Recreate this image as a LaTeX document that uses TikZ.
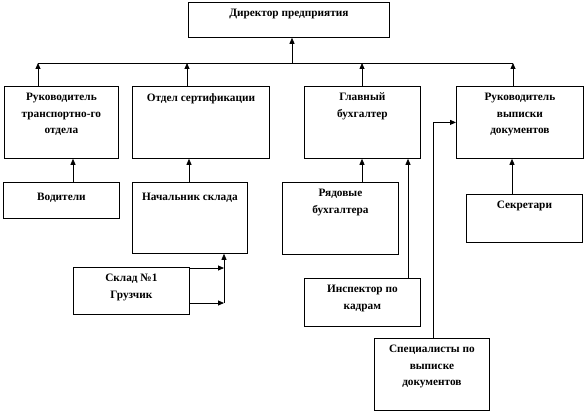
\documentclass[tikz,border=0pt]{standalone}
\usepackage{fontspec}
\setmainfont{Liberation Serif}
\usetikzlibrary{arrows.meta}
\tikzset{
  box/.style  = {draw, line width=0.8pt, anchor=north west, inner sep=0pt},
  boxt/.style = {anchor=north, align=center, inner sep=0pt, yshift=-7pt,
                 font=\bfseries\fontsize{11.3}{16.5}\selectfont},
  ln/.style   = {line width=0.8pt},
  ar/.style   = {ln, -{Triangle[length=6pt,width=5pt]}},
}
\begin{document}
\begin{tikzpicture}[x=1pt, y=-1pt]
\useasboundingbox (0,0) rectangle (585,414);

% -- head ---------------------------------------------------------------------
\node[box, minimum width=201pt, minimum height=35pt,
      label={[boxt]north:Директор предприятия}] (dir) at (188,2) {};

% -- second level -------------------------------------------------------------
\node[box, minimum width=114pt, minimum height=72pt,
      label={[boxt]north:{Руководитель\\транспортно-го\\отдела}}] (rt) at (4,86) {};
\node[box, minimum width=137pt, minimum height=72pt,
      label={[boxt]north:Отдел сертификации}] (os) at (132,86) {};
\node[box, minimum width=116pt, minimum height=72pt,
      label={[boxt]north:{Главный\\бухгалтер}}] (gb) at (304,86) {};
\node[box, minimum width=127pt, minimum height=72pt,
      label={[boxt]north:{Руководитель\\выписки\\документов}}] (rv) at (456,86) {};

% -- third level --------------------------------------------------------------
\node[box, minimum width=116pt, minimum height=36pt,
      label={[boxt, yshift=-4pt]north:Водители}] (vd) at (3,182) {};
\node[box, minimum width=115pt, minimum height=71pt,
      label={[boxt, yshift=-4pt]north:Начальник склада}] (ns) at (132,182) {};
\node[box, minimum width=116pt, minimum height=47pt,
      label={[boxt]north:{Склад №1\\Грузчик}}] (sk) at (73,267) {};
\node[box, minimum width=116pt, minimum height=72pt,
      label={[boxt]north:{Рядовые\\бухгалтера}}] (rb) at (282,182) {};
\node[box, minimum width=116pt, minimum height=48pt,
      label={[boxt]north:{Инспектор по\\кадрам}}] (ik) at (304,278) {};
\node[box, minimum width=116pt, minimum height=48pt,
      label={[boxt]north:Секретари}] (sc) at (466,194) {};
\node[box, minimum width=115pt, minimum height=72pt,
      label={[boxt]north:{Специалисты по\\выписке\\документов}}] (sp) at (374,338) {};

% -- bus under the head -------------------------------------------------------
\coordinate (bus) at (292,63);
\coordinate (b1) at (38,63);
\coordinate (b2) at (187,63);
\coordinate (b3) at (362,63);
\coordinate (b4) at (513,63);
\draw[ln] (b1) -- (b4);
\draw[ar] (bus) -- (dir.south -| bus);
\draw[ar] (rt.north -| b1) -- (b1);
\draw[ar] (os.north -| b2) -- (b2);
\draw[ar] (gb.north -| b3) -- (b3);
\draw[ar] (rv.north -| b4) -- (b4);

% -- second to third level ----------------------------------------------------
\coordinate (x1) at (73,0);
\coordinate (x2) at (189,0);
\coordinate (x3) at (362,0);
\coordinate (x4) at (512,0);
\coordinate (x5) at (408,0);
\coordinate (x6) at (433,0);
\draw[ar] (vd.north -| x1) -- (rt.south -| x1);
\draw[ar] (ns.north -| x2) -- (os.south -| x2);
\draw[ar] (rb.north -| x3) -- (gb.south -| x3);
\draw[ar] (sc.north -| x4) -- (rv.south -| x4);
\draw[ar] (ik.north -| x5) -- (gb.south -| x5);
\draw[ar] (sp.north -| x6) |- (rv.west);

% -- store into the store chief -----------------------------------------------
\coordinate (jt) at (224,268);
\coordinate (jb) at (224,303);
\draw[ar] (sk.east |- jt) -- (jt);
\draw[ar] (sk.east |- jb) -- (jb);
\draw[ar] (jb) -- (ns.south -| jb);

\end{tikzpicture}
\end{document}
